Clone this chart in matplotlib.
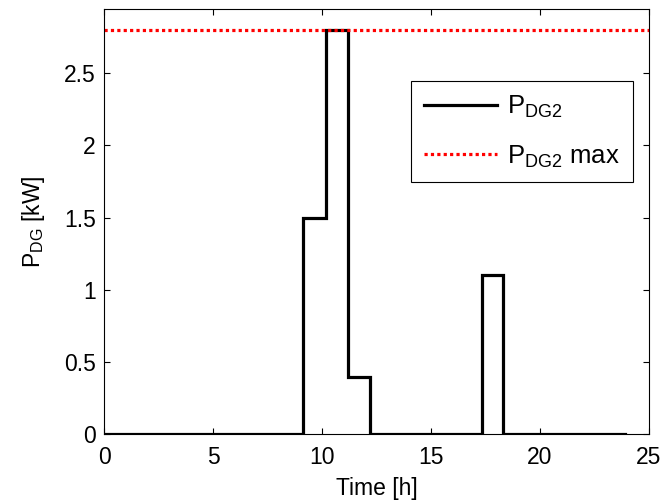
import matplotlib
matplotlib.use("Agg")
import matplotlib.pyplot as plt
import numpy as np

plt.rcParams['font.family'] = ['Liberation Sans', 'DejaVu Sans']
plt.rcParams['mathtext.fontset'] = 'custom'
plt.rcParams['mathtext.rm'] = 'Liberation Sans'
plt.rcParams['mathtext.it'] = 'Liberation Sans'
plt.rcParams['mathtext.bf'] = 'Liberation Sans:bold'

# step edges (hours) and power levels (kW)
time_edges = [0, 9.15, 10.2, 11.2, 12.2, 17.35, 18.3, 23.9]
p_dg2 = [0, 1.5, 2.8, 0.4, 0, 1.1, 0]
p_max = 2.8
x_ticks = [0, 5, 10, 15, 20, 25]
y_ticks = [0, 0.5, 1, 1.5, 2, 2.5]

fig = plt.figure(figsize=(6.6, 5.04), dpi=100)
ax = fig.add_axes([0.1576, 0.138, 0.8254, 0.8435])

x = np.repeat(time_edges, 2)[1:-1]
y = np.repeat(p_dg2, 2)
ax.plot(x, y, color='black', lw=2.3, label=r'P$_{\mathrm{DG2}}$', solid_joinstyle='miter')
ax.axhline(p_max, color='red', lw=2.3, ls=(0, (1, 1)), label=r'P$_{\mathrm{DG2}}$ max')

ax.set_xlim(0, 25)
ax.set_ylim(0, p_max * 1.05)
ax.set_xticks(x_ticks)
ax.set_yticks(y_ticks)
ax.set_yticklabels(['0', '0.5', '1', '1.5', '2', '2.5'])
ax.tick_params(direction='in', length=4, width=0.8, labelsize=16.5, top=True, right=True)
ax.tick_params(axis='x', pad=8)
ax.tick_params(axis='y', pad=6)
for s in ax.spines.values():
    s.set_linewidth(0.8)

ax.set_xlabel('Time [h]', fontsize=16.5, labelpad=6)
ax.set_ylabel(r'P$_{\mathrm{DG}}$ [kW]', fontsize=16.5, labelpad=12)

leg = ax.legend(loc='upper left', bbox_to_anchor=(0.5636, 0.831), fontsize=18.5,
                frameon=True, fancybox=False, edgecolor='black', framealpha=1,
                handlelength=2.85, borderpad=0.5, labelspacing=0.9, handletextpad=0.4,
                borderaxespad=0)
leg.get_frame().set_linewidth(0.8)

fig.savefig('out.png', dpi=100)
